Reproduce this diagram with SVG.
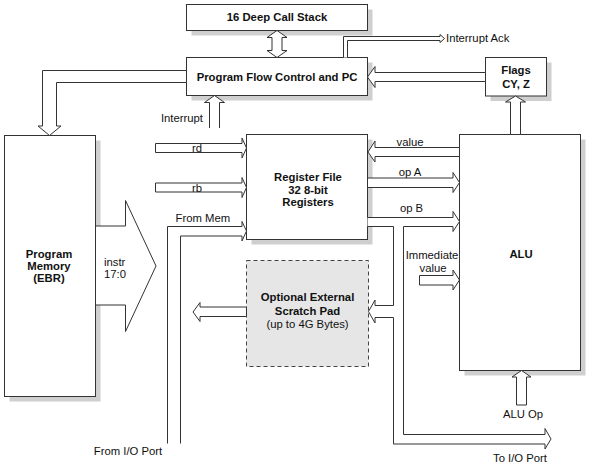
<svg xmlns="http://www.w3.org/2000/svg" width="591" height="465" viewBox="0 0 591 465">
<style>
.box{fill:#fff;stroke:#333;stroke-width:1}
.sh{fill:#cfcfcf;stroke:none}
.dash{fill:#e6e6e6;stroke:#444;stroke-width:1;stroke-dasharray:4,3}
.ar{fill:#fff;stroke:#333;stroke-width:1;stroke-linejoin:miter}
.t{font-family:"Liberation Sans",Arial,sans-serif;font-size:11.3px;fill:#111}
.b{font-weight:bold}
.m{text-anchor:middle}
.e{text-anchor:end}
</style>
<rect width="591" height="465" fill="#fff"/>
<g id="call-stack">
<rect class="sh" x="191.5" y="9.5" width="181" height="26"/>
<rect class="box" x="186.5" y="4.5" width="181" height="26"/>
<text class="t b m" x="277" y="21">16 Deep Call Stack</text>
</g>
<g id="pfc">
<rect class="sh" x="191.5" y="62.5" width="181" height="38"/>
<rect class="box" x="186.5" y="57.5" width="181" height="38"/>
<text class="t b m" x="277" y="81">Program Flow Control and PC</text>
</g>
<g id="flags">
<rect class="sh" x="490.5" y="62.5" width="61" height="38.5"/>
<rect class="box" x="485.5" y="57.5" width="61" height="38.5"/>
<text class="t b m" x="516" y="74">Flags</text>
<text class="t b m" x="516" y="87.5">CY, Z</text>
</g>
<g id="program-memory">
<rect class="sh" x="9.5" y="140.5" width="91" height="261"/>
<rect class="box" x="4.5" y="135.5" width="91" height="261"/>
<text class="t b m" x="49" y="258">Program</text>
<text class="t b m" x="49" y="270">Memory</text>
<text class="t b m" x="49" y="282">(EBR)</text>
</g>
<g id="register-file">
<rect class="sh" x="251.5" y="139.5" width="121" height="105"/>
<rect class="box" x="246.5" y="134.5" width="121" height="105"/>
<text class="t b m" x="308" y="181">Register File</text>
<text class="t b m" x="308" y="194">32 8-bit</text>
<text class="t b m" x="308" y="206">Registers</text>
</g>
<g id="alu">
<rect class="sh" x="464.5" y="139.5" width="121" height="236"/>
<rect class="box" x="459.5" y="134.5" width="121" height="236"/>
<text class="t b m" x="521" y="258">ALU</text>
</g>
<g id="scratch-pad">
<rect class="dash" x="246.5" y="260.5" width="122" height="106"/>
<text class="t b m" x="307.5" y="301">Optional External</text>
<text class="t b m" x="307.5" y="315">Scratch Pad</text>
<text class="t m" x="307.5" y="328">(up to 4G Bytes)</text>
</g>
<g id="connectors">
<polygon class="ar" points="277,30.5 287,37.5 282,37.5 282,50.5 287,50.5 277,57.5 267,50.5 272,50.5 272,37.5 267,37.5"/>
<polygon class="ar" points="485.5,72.5 375,72.5 375,66.5 367.5,77 375,87.5 375,81.5 485.5,81.5"/>
<polygon class="ar" points="510.5,134.5 510.5,102 505.5,102 515.5,96 525.5,102 520.5,102 520.5,134.5"/>
<path class="ar" d="M343.5,57.5 V36.5 H440 V34.5 L444.5,38.5 L440,42.5 V40.5 H347.5 V57.5"/>
<polygon class="ar" points="186.5,70.5 42.5,70.5 42.5,126 38,126 49.5,135.5 61,126 56.5,126 56.5,82.5 186.5,82.5"/>
<path class="ar" d="M209.5,128 V102.5 H204.5 L214.5,95.5 L224.5,102.5 H219.5 V128"/>
<polygon class="ar" points="155.5,143.5 242,143.5 242,138 246.5,148 242,158 242,152.5 155.5,152.5"/>
<polygon class="ar" points="155.5,183 242,183 242,177.5 246.5,187.5 242,197.5 242,192 155.5,192"/>
<path class="ar" d="M167.5,443.5 V226.5 H242 V221.5 L246.5,231 L242,241 V236 H180.5 V443.5"/>
<polygon class="ar" points="459.5,147.5 375,147.5 375,141 368,152 375,162 375,156.5 459.5,156.5"/>
<polygon class="ar" points="367.5,178 453,178 453,172.5 459.5,182.5 453,192.5 453,187.5 367.5,187.5"/>
<path class="ar" d="M367.5,217.5 H453 V211.5 L459.5,221.5 L453,231.5 V226.5 H403.5 V434.5 H545 V428.5 L551,439 L545,449 V444 H393.5 V317.5 H375 V323 L368.5,311.5 L375,300 V305.5 H393.5 V226.5 H367.5"/>
<polygon class="ar" points="246.5,307 200,307 200,302.5 193,312 200,321.5 200,316.5 246.5,316.5"/>
<polygon class="ar" points="419.5,275.5 453,275.5 453,270 459.5,280 453,290 453,285 419.5,285"/>
<polygon class="ar" points="516.5,405 516.5,377 512,377 521.5,370.5 531,377 526.5,377 526.5,405"/>
<polygon class="ar" points="95.5,226 125.5,226 125.5,200.5 156,266 125.5,331.5 125.5,305 95.5,305"/>
<text class="t" x="446" y="42">Interrupt Ack</text>
<text class="t e" x="203" y="122">Interrupt</text>
<text class="t m" x="197" y="152">rd</text>
<text class="t m" x="197" y="191.5">rb</text>
<text class="t" x="175.5" y="222">From Mem</text>
<text class="t m" x="410" y="146">value</text>
<text class="t m" x="410" y="176">op A</text>
<text class="t m" x="411.5" y="212">op B</text>
<text class="t m" x="432" y="259">Immediate</text>
<text class="t m" x="433" y="272">value</text>
<text class="t" x="104" y="265.5">instr</text>
<text class="t" x="104" y="277.5">17:0</text>
<text class="t m" x="523" y="418">ALU Op</text>
<text class="t m" x="128" y="455">From I/O Port</text>
<text class="t m" x="520" y="462">To I/O Port</text>
</g>
</svg>
